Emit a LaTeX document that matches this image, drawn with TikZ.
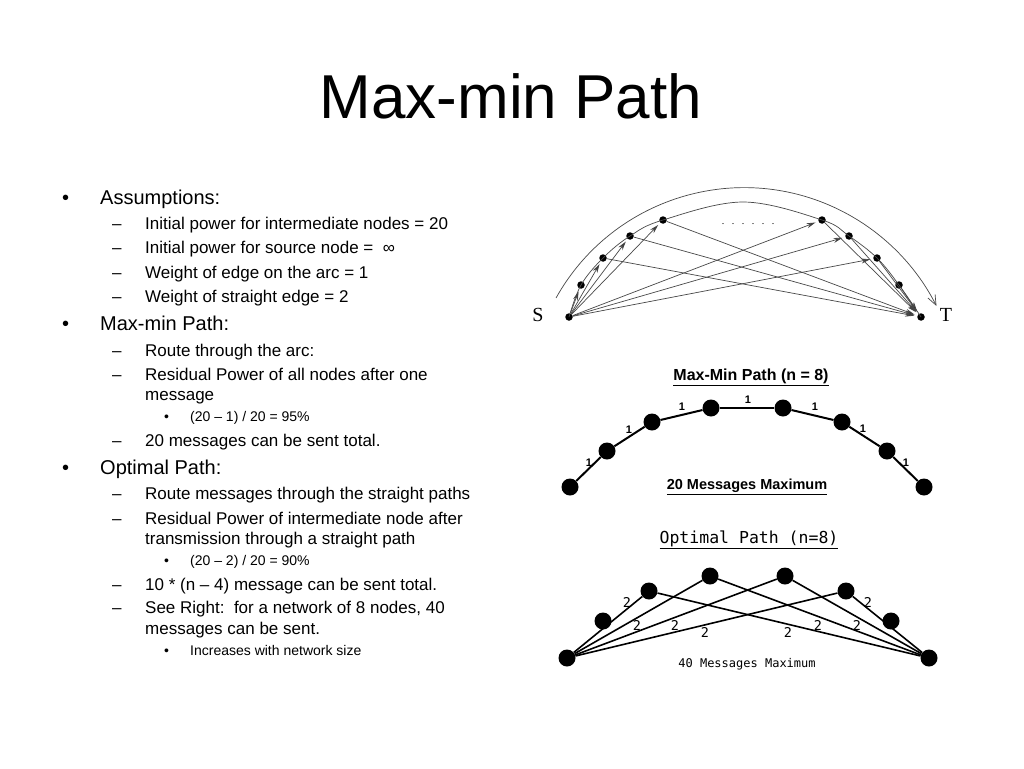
\documentclass[tikz,border=0pt]{standalone}
\usepackage{fontspec}
\setmainfont{Liberation Sans}
\newfontfamily\timesfont{Liberation Serif}
\newfontfamily\plotfont{DejaVu Sans Mono}
\usetikzlibrary{arrows.meta}

\tikzset{
  lvlone/.style={anchor=base west, inner sep=0pt, font=\fontsize{20}{24}\selectfont},
  lvltwo/.style={anchor=base west, inner sep=0pt, font=\fontsize{17}{20}\selectfont},
  lvlthree/.style={anchor=base west, inner sep=0pt, font=\fontsize{14}{17}\selectfont},
  smalldot/.style={circle, fill=black, inner sep=0pt, minimum size=7.5pt},
  bigdot/.style={circle, fill=black, inner sep=0pt, minimum size=17pt},
  thinline/.style={draw=black!72, line width=0.7pt},
  flow/.style={thinline, shorten >=3pt, -{Stealth[length=9pt, width=5pt, fill=black!80]}},
  onelabel/.style={font=\fontsize{11}{13}\selectfont\bfseries, inner sep=0pt},
  twolabel/.style={font=\fontsize{13.5}{15}\plotfont, inner sep=0pt}
}

\begin{document}
\begin{tikzpicture}[x=1pt, y=-1pt]
  \useasboundingbox[fill=white] (0,0) rectangle (1024,768);

  \node[font=\fontsize{62}{70}\selectfont, anchor=base, inner sep=0pt] (title) at (511,118) {Max-min Path};

  % bullets
  \node[lvlone] at (62,204) {•};
  \node[lvlone] at (100,204) {Assumptions:};
  \node[lvltwo] at (112,229.5) {–};
  \node[lvltwo] at (145,229.5) {Initial power for intermediate nodes = 20};
  \node[lvltwo] at (112,253.5) {–};
  \node[lvltwo] at (145,253.5) {Initial power for source node = \ ∞};
  \node[lvltwo] at (112,278) {–};
  \node[lvltwo] at (145,278) {Weight of edge on the arc = 1};
  \node[lvltwo] at (112,302) {–};
  \node[lvltwo] at (145,302) {Weight of straight edge = 2};
  \node[lvlone] at (62,330) {•};
  \node[lvlone] at (100,330) {Max-min Path:};
  \node[lvltwo] at (112,356) {–};
  \node[lvltwo] at (145,356) {Route through the arc:};
  \node[lvltwo] at (112,380.5) {–};
  \node[lvltwo] at (145,380.5) {Residual Power of all nodes after one};
  \node[lvltwo] at (145,400.5) {message};
  \node[lvlthree] at (164,421.5) {•};
  \node[lvlthree] at (190,421.5) {(20 – 1) / 20 = 95\%};
  \node[lvltwo] at (112,446) {–};
  \node[lvltwo] at (145,446) {20 messages can be sent total.};
  \node[lvlone] at (62,474) {•};
  \node[lvlone] at (100,474) {Optimal Path:};
  \node[lvltwo] at (112,499.5) {–};
  \node[lvltwo] at (145,499.5) {Route messages through the straight paths};
  \node[lvltwo] at (112,524) {–};
  \node[lvltwo] at (145,524) {Residual Power of intermediate node after};
  \node[lvltwo] at (145,544) {transmission through a straight path};
  \node[lvlthree] at (164,565) {•};
  \node[lvlthree] at (190,565) {(20 – 2) / 20 = 90\%};
  \node[lvltwo] at (112,590) {–};
  \node[lvltwo] at (145,590) {10 * (n – 4) message can be sent total.};
  \node[lvltwo] at (112,613.5) {–};
  \node[lvltwo] at (145,613.5) {See Right:\ \ for a network of 8 nodes, 40};
  \node[lvltwo] at (145,634) {messages can be sent.};
  \node[lvlthree] at (164,655) {•};
  \node[lvlthree] at (190,655) {Increases with network size};

  % arc network
  \node[smalldot] (S) at (569,317) {};
  \node[smalldot] (T) at (921,317) {};
  \foreach \n/\x/\y in {a1/581/285, a2/603/258, a3/630/236, a4/663/220,
                        b4/822/220, b3/849/236, b2/877/258, b1/899/285}
    \node[smalldot] (\n) at (\x,\y) {};
  \coordinate (apex) at (743,202);
  \node[font=\fontsize{20}{22}\timesfont] (Slabel) at (538,315) {S};
  \node[font=\fontsize{20}{22}\timesfont] (Tlabel) at (946,315) {T};
  \node[font=\fontsize{10}{12}\timesfont] (dots) at (748,224)
    {.\hspace{7.5pt}.\hspace{7.5pt}.\hspace{7.5pt}.\hspace{7.5pt}.\hspace{7.5pt}.};

  \draw[thinline] plot[smooth, tension=0.6] coordinates {(S.center) (a1.center) (a2.center) (a3.center)
    (a4.center) (apex) (b4.center) (b3.center) (b2.center) (b1.center) (T.center)};
  \draw[thinline, -{Straight Barb[length=10pt, width=8pt]}] (556,298) arc[start angle=150.8, end angle=26.8, radius=215.5pt];
  \foreach \n in {a1,a2,a3,a4,b4,b3,b2}
    \draw[flow] (S) -- (\n);
  \foreach \n in {a2,a3,a4,b4,b3,b2,b1}
    \draw[flow] (\n) -- (T);

  % max-min path
  \node[font=\fontsize{16}{19}\selectfont\bfseries] (mmtitle) at (751,377) {\underline{Max-Min Path (n = 8)}};
  \foreach \n/\x/\y in {c1/570/487, c2/607/451, c3/652/422, c4/711/408,
                        c5/783/408, c6/842/422, c7/887/451, c8/924/487}
    \node[bigdot] (\n) at (\x,\y) {};
  \foreach \a/\b/\lx/\ly in {c1/c2/589/463, c2/c3/629/430, c3/c4/682/407, c4/c5/748/400,
                             c5/c6/815/407, c6/c7/863/429, c7/c8/906/463} {
    \draw[line width=2pt] (\a) -- (\b);
    \node[onelabel] at (\lx,\ly) {1};
  }
  \node[font=\fontsize{14.5}{17}\selectfont\bfseries] (mmfoot) at (747,487) {\underline{20 Messages Maximum}};

  % optimal path
  \node[font=\fontsize{16.5}{19}\plotfont] (optitle) at (749,540) {\underline{Optimal Path (n=8)}};
  \foreach \n/\x/\y in {d1/567/658, d2/603/621, d3/649/591, d4/710/576,
                        d5/785/576, d6/846/591, d7/891/621, d8/929/658}
    \node[bigdot] (\n) at (\x,\y) {};
  \foreach \a/\b in {d1/d3, d1/d4, d1/d5, d1/d6, d8/d6, d8/d5, d8/d4, d8/d3}
    \draw[line width=1.6pt] (\a) -- (\b);
  \foreach \lx/\ly in {627/602, 637/625, 675/625, 705/632, 868/602, 857/625, 818/625, 788/632}
    \node[twolabel] at (\lx,\ly) {2};
  \node[font=\fontsize{12}{14}\plotfont] (opfoot) at (747,664) {40 Messages Maximum};
\end{tikzpicture}
\end{document}
